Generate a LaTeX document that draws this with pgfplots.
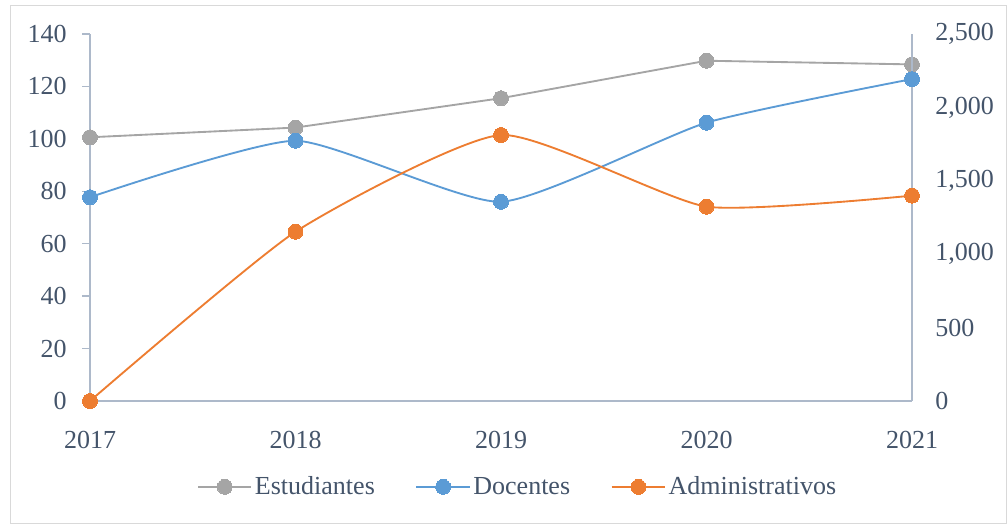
\documentclass[border=0pt]{standalone}
\usepackage{pgfplots}
\pgfplotsset{compat=1.18}
\usepackage{fontspec}
\setmainfont{Liberation Serif}
\definecolor{txt}{RGB}{68,84,106}
\definecolor{axc}{RGB}{173,185,202}
\definecolor{cgray}{RGB}{165,165,165}
\definecolor{cblue}{RGB}{91,155,213}
\definecolor{corange}{RGB}{237,125,49}
\definecolor{framec}{RGB}{217,217,217}
\newcommand{\chartfont}{\fontsize{19.5bp}{23bp}\selectfont}
\begin{document}
\begin{tikzpicture}
\useasboundingbox (0,0) rectangle (755.25bp,393.75bp);
\draw[framec, line width=0.75bp] (7.5bp,1.5bp) rectangle (754.5bp,389.25bp);
\pgfplotsset{
  base/.style={
    scale only axis, width=616.5bp, height=275.25bp,
    at={(67.5bp,93bp)}, anchor=south west,
    xmin=2017, xmax=2021, ymin=0,
    font=\chartfont,
    tick label style={text=txt, font=\chartfont},
    /pgf/number format/assume math mode=true,
    axis line style={axc, line width=1bp},
    clip=false,
  },
  ser/.style={color=#1, line width=1.4bp, mark=*, mark size=5.6bp, mark options={fill=#1, draw=#1, line width=0bp}},
}
\begin{axis}[base, ymax=140,
  axis x line*=bottom, axis y line*=left,
  xtick={2017,2018,2019,2020,2021},
  xticklabel style={/pgf/number format/1000 sep={}, anchor=north, inner sep=0pt, yshift=-16.5bp},
  ytick={0,20,...,140},
  yticklabel style={anchor=east, inner sep=0pt, xshift=-11.25bp},
  xtick style={draw=none},
  ytick style={axc, line width=1bp},
  major tick length=6bp, tick align=outside,
]
\addplot[ser=cgray, sharp plot] coordinates {(2017,100.6) (2018,104.3) (2019,115.5) (2020,129.8) (2021,128.4)};
\end{axis}
\begin{axis}[base, ymax=2500,
  axis x line=none, axis y line*=right,
  ytick={0,500,...,2500},
  yticklabel style={/pgf/number format/1000 sep={,}, anchor=west, inner sep=0pt, xshift=17.25bp},
  ytick style={draw=none},
  legend style={at={(0.130,-0.234)}, anchor=west, draw=none, fill=none, legend columns=3,
    inner sep=0pt, font=\chartfont, text=txt,
    /tikz/every even column/.append style={column sep=28.5bp},
    nodes={inner xsep=2bp, inner ysep=0pt}},
  legend image code/.code={\draw[mark repeat=2,mark phase=2] plot coordinates {(0bp,0bp) (20bp,0bp) (40bp,0bp)};},
]
\addlegendimage{ser=cgray, sharp plot}
\addlegendentry{Estudiantes}
\addplot[ser=cblue, smooth, tension=0.33] coordinates {(2017,1388) (2018,1773) (2019,1357) (2020,1896) (2021,2193)};
\addlegendentry{Docentes}
\addplot[ser=corange, smooth, tension=0.33] coordinates {(2017,0) (2018,1153) (2019,1812) (2020,1324) (2021,1399)};
\addlegendentry{Administrativos}
\end{axis}
\end{tikzpicture}
\end{document}
